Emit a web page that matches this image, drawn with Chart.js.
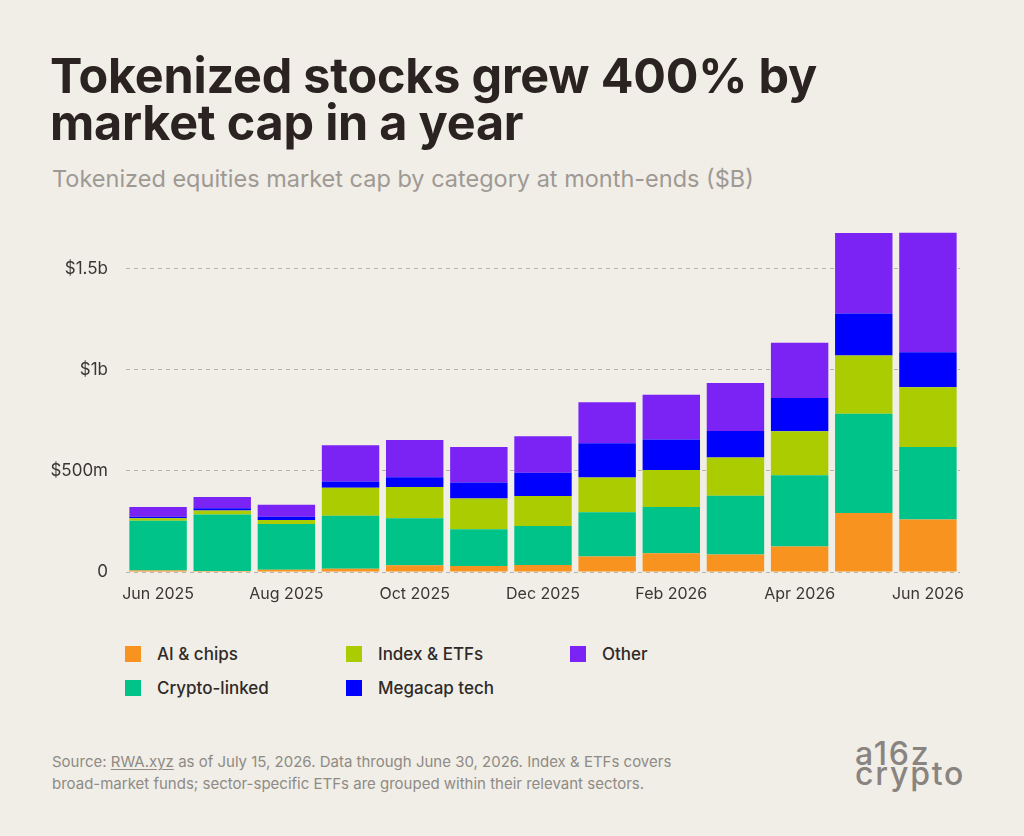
<!DOCTYPE html>
<html>
<head>
<meta charset="utf-8">
<script src="https://cdn.jsdelivr.net/npm/chart.js@4.4.0/dist/chart.umd.min.js"></script>
<style>
  html, body { margin: 0; padding: 0; }
  body {
    width: 1024px; height: 836px; overflow: hidden; position: relative;
    background: #f0eee7; font-family: Inter, "Noto Sans", sans-serif; color: #2b2321;
  }
  h1 {
    position: absolute; left: 50px; top: 52px; margin: 0;
    font-size: 48.5px; line-height: 47px; font-weight: 700; letter-spacing: -0.2px; color: #2b2321;
  }
  .sub {
    position: absolute; left: 52px; top: 164px; margin: 0;
    font-size: 23.5px; color: #9f9994; font-weight: 400;
  }
  #wrap { position: absolute; left: 0; top: 200px; width: 1024px; height: 420px; }
  #legend {
    position: absolute; left: 125px; top: 644px;
    display: grid; grid-template-columns: 221px 224px 200px; row-gap: 14px;
    font-size: 17px; font-weight: 500; color: #2f2a27;
  }
  #legend .item { display: flex; align-items: center; height: 20px; }
  #legend .sw { width: 16px; height: 16px; margin-right: 16px; }
  .foot {
    position: absolute; left: 52px; top: 751px; margin: 0;
    font-size: 15px; line-height: 22px; color: #8f8a84;
  }
  .foot u { text-decoration-thickness: 1px; text-underline-offset: 2px; }
  .logo {
    position: absolute; left: 855px; top: 744px;
    font-size: 32px; line-height: 20px; font-weight: 500; color: #8a8481; letter-spacing: 1.8px;
  }
</style>
</head>
<body>
<h1>Tokenized stocks grew 400% by<br>market cap in a year</h1>
<p class="sub">Tokenized equities market cap by category at month-ends ($B)</p>
<div id="wrap"><canvas id="chart"></canvas></div>
<div id="legend"></div>
<p class="foot">Source: <u>RWA.xyz</u> as of July 15, 2026. Data through June 30, 2026. Index &amp; ETFs covers<br>broad-market funds; sector-specific ETFs are grouped within their relevant sectors.</p>
<div class="logo">a16z<br>crypto</div>

<script>
// month-end labels
const months = ["Jun 2025", "Jul 2025", "Aug 2025", "Sep 2025", "Oct 2025", "Nov 2025", "Dec 2025",
  "Jan 2026", "Feb 2026", "Mar 2026", "Apr 2026", "May 2026", "Jun 2026"];

// market cap by category, $m
const aiChips = [7, 5, 11, 16, 33, 30, 34, 77, 93, 87, 126, 292, 259];
const cryptoLinked = [246, 279, 226, 262, 233, 182, 193, 218, 229, 290, 352, 490, 359];
const indexEtfs = [13, 20, 20, 139, 154, 151, 149, 172, 182, 189, 218, 288, 295];
const megacapTech = [7, 11, 16, 30, 49, 80, 115, 170, 151, 131, 164, 208, 174];
const other = [48, 56, 59, 180, 184, 175, 180, 202, 221, 238, 274, 398, 590];

const yTickValues = [0, 500, 1000, 1500];
const yTickLabels = ["0", "$500m", "$1b", "$1.5b"];

const series = [
  { label: "AI & chips", data: aiChips, color: "#f7931e" },
  { label: "Crypto-linked", data: cryptoLinked, color: "#00c389" },
  { label: "Index & ETFs", data: indexEtfs, color: "#abcc00" },
  { label: "Megacap tech", data: megacapTech, color: "#0000ff" },
  { label: "Other", data: other, color: "#7b22f5" },
];

// legend, laid out in columns like the original
const legendOrder = ["AI & chips", "Index & ETFs", "Other", "Crypto-linked", "Megacap tech"];
const legendEl = document.getElementById("legend");
legendOrder.forEach((name) => {
  const s = series.find((x) => x.label === name);
  const item = document.createElement("div");
  item.className = "item";
  item.innerHTML = `<span class="sw" style="background:${s.color}"></span><span>${s.label}</span>`;
  legendEl.appendChild(item);
});

const tickColor = "#3b3632";

new Chart(document.getElementById("chart"), {
  type: "bar",
  data: {
    labels: months,
    datasets: series.map((s) => ({
      label: s.label,
      data: s.data,
      backgroundColor: s.color,
      borderWidth: 0,
      categoryPercentage: 1,
      barPercentage: 0.895,
    })),
  },
  options: {
    responsive: true,
    maintainAspectRatio: false,
    animation: false,
    layout: { padding: { left: 0, right: 64, top: 26, bottom: 0 } },
    plugins: { legend: { display: false }, tooltip: { enabled: false } },
    scales: {
      x: {
        stacked: true,
        grid: { display: false, drawTicks: false },
        border: { display: false },
        afterFit: (scale) => { scale.height = 48; },
        ticks: {
          autoSkip: false,
          maxRotation: 0,
          padding: 13,
          color: tickColor,
          font: { family: "Inter", size: 16 },
          callback: function (value, index) {
            return index % 2 === 0 ? months[index] : "";
          },
        },
      },
      y: {
        stacked: true,
        min: 0,
        max: 1700,
        border: { display: false, dash: [4, 4] },
        afterBuildTicks: (scale) => {
          scale.ticks = yTickValues.map((v) => ({ value: v }));
        },
        afterFit: (scale) => { scale.width = 126; },
        grid: {
          drawTicks: false,
          color: "#b8b4ad",
          lineWidth: 1,
        },
        ticks: {
          padding: 18,
          color: tickColor,
          font: { family: "Inter", size: 17 },
          callback: (value) => yTickLabels[yTickValues.indexOf(value)],
        },
      },
    },
  },
});
</script>
</body>
</html>
